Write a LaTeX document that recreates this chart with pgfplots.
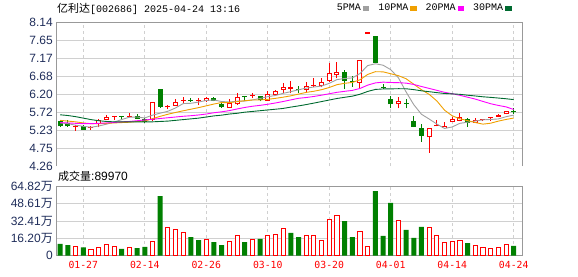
\documentclass[border=0pt]{standalone}
\usepackage{fontspec}
\setmainfont{Liberation Sans}
\newfontfamily\cjk{Noto Sans CJK SC}
\newfontfamily\mono{Liberation Mono}
\newfontfamily\datefont{DejaVu Sans Mono}
\usepackage{pgfplots}
\usepackage{pgfplotstable}
\pgfplotsset{compat=1.18}
\definecolor{upred}{HTML}{FF0000}
\definecolor{dngreen}{HTML}{008000}
\definecolor{maA}{HTML}{A0A0A0}
\definecolor{maB}{HTML}{F0A000}
\definecolor{maC}{HTML}{FF00FF}
\definecolor{maD}{HTML}{006A30}
\definecolor{gridc}{HTML}{D0D0D0}
\definecolor{framec}{HTML}{999999}
\definecolor{navy}{HTML}{1F2D5A}

% down (green) candles: index open high low close
\pgfplotstableread{
i O H L C
0 5.47 5.49 5.32 5.33
1 5.43 5.51 5.32 5.33
3 5.35 5.37 5.23 5.24
8 5.60 5.61 5.51 5.59
10 5.61 5.67 5.52 5.53
11 5.53 5.55 5.42 5.44
13 6.33 6.34 5.83 5.86
17 6.03 6.09 5.98 6.02
20 6.10 6.13 6.00 6.02
21 5.93 5.97 5.83 5.84
24 6.12 6.15 6.02 6.11
26 6.15 6.15 6.00 6.04
31 6.32 6.41 6.22 6.30
37 6.80 6.86 6.33 6.56
38 6.55 6.69 6.40 6.52
41 7.75 7.75 7.04 7.04
42 6.38 6.48 6.33 6.37
43 6.06 6.15 5.81 5.92
45 5.94 6.06 5.81 5.93
46 5.47 5.61 5.31 5.32
47 5.29 5.38 4.91 5.08
53 5.52 5.56 5.32 5.43
59 5.73 5.83 5.66 5.72
}\downtab

% up (red) candles
\pgfplotstableread{
i O H L C
2 5.31 5.36 5.21 5.32
4 5.29 5.35 5.23 5.30
5 5.38 5.52 5.30 5.50
6 5.50 5.63 5.49 5.57
7 5.59 5.61 5.50 5.60
9 5.59 5.68 5.57 5.61
12 5.50 5.98 5.47 5.98
14 5.84 5.91 5.79 5.86
15 5.89 6.07 5.87 5.98
16 6.02 6.11 5.95 6.03
18 6.01 6.09 5.90 6.02
19 6.00 6.13 5.99 6.09
22 5.83 6.06 5.82 5.95
23 5.92 6.22 5.91 6.13
25 6.15 6.24 6.08 6.17
27 6.02 6.29 6.01 6.19
28 6.16 6.31 6.15 6.29
29 6.31 6.50 6.22 6.40
30 6.34 6.56 6.22 6.39
32 6.31 6.53 6.26 6.41
33 6.42 6.62 6.40 6.44
34 6.41 6.62 6.38 6.53
35 6.55 7.04 6.53 6.76
36 6.71 7.07 6.62 6.80
39 6.49 7.12 6.35 7.12
40 7.83 7.83 7.83 7.83
44 5.92 6.11 5.81 6.02
48 5.03 5.28 4.62 5.28
49 5.33 5.50 5.33 5.34
50 5.28 5.44 5.28 5.34
51 5.44 5.59 5.44 5.52
52 5.48 5.68 5.46 5.57
54 5.43 5.56 5.42 5.50
55 5.49 5.53 5.47 5.50
56 5.56 5.58 5.47 5.57
57 5.59 5.65 5.58 5.64
58 5.65 5.73 5.65 5.73
}\uptab

% moving averages
\pgfplotstableread{
i m5 m10 m20 m30
0 5.42 5.49 5.43 5.64
1 5.40 5.47 5.42 5.62
2 5.36 5.45 5.41 5.59
3 5.33 5.42 5.40 5.55
4 5.304 5.40 5.40 5.51
5 5.338 5.40 5.41 5.48
6 5.386 5.41 5.42 5.46
7 5.442 5.42 5.43 5.45
8 5.512 5.43 5.45 5.45
9 5.574 5.439 5.46 5.45
10 5.580 5.459 5.48 5.45
11 5.554 5.470 5.50 5.45
12 5.630 5.536 5.52 5.45
13 5.684 5.598 5.54 5.46
14 5.734 5.654 5.56 5.47
15 5.824 5.702 5.58 5.49
16 5.942 5.748 5.60 5.51
17 5.950 5.790 5.615 5.53
18 5.982 5.833 5.635 5.55
19 6.028 5.881 5.660 5.58
20 6.036 5.930 5.695 5.61
21 5.998 5.970 5.720 5.63
22 5.984 5.967 5.752 5.66
23 6.006 5.994 5.796 5.68
24 6.010 6.019 5.837 5.71
25 6.040 6.038 5.870 5.73
26 6.080 6.039 5.894 5.75
27 6.128 6.056 5.923 5.77
28 6.160 6.083 5.958 5.79
29 6.218 6.114 5.998 5.811
30 6.262 6.151 6.041 5.847
31 6.314 6.197 6.084 5.879
32 6.358 6.243 6.105 5.915
33 6.388 6.274 6.134 5.955
34 6.414 6.316 6.168 5.996
35 6.488 6.375 6.207 6.038
36 6.588 6.451 6.245 6.079
37 6.618 6.488 6.272 6.111
38 6.634 6.511 6.297 6.142
39 6.752 6.583 6.349 6.193
40 6.966 6.727 6.439 6.269
41 7.014 6.801 6.499 6.323
42 6.976 6.797 6.520 6.336
43 6.856 6.745 6.510 6.338
44 6.636 6.694 6.505 6.343
45 6.256 6.611 6.493 6.341
46 5.912 6.463 6.457 6.318
47 5.654 6.315 6.402 6.286
48 5.526 6.191 6.351 6.262
49 5.390 6.013 6.298 6.237
50 5.272 5.764 6.246 6.214
51 5.312 5.612 6.207 6.203
52 5.410 5.532 6.165 6.191
53 5.440 5.483 6.114 6.167
54 5.472 5.431 6.063 6.147
55 5.504 5.388 6.000 6.125
56 5.514 5.413 5.938 6.109
57 5.528 5.469 5.892 6.091
58 5.588 5.514 5.853 6.072
59 5.632 5.552 5.783 6.049
}\matab

% volume (10k shares), green days
\pgfplotstableread{
i v
0 10.8
1 9.8
3 7.7
8 6.1
10 7.0
11 8.0
13 55.7
17 17.3
18 14.5
20 12.6
21 9.8
24 12.6
26 15.5
30 21.1
31 17.3
37 32.3
38 17.3
41 60.4
42 18.3
43 49.2
45 23.9
46 16.4
47 26.7
53 11.7
59 9.0
}\vdown

% volume, red days
\pgfplotstableread{
i v
2 8.6
4 6.1
5 7.7
6 10.5
7 8.9
9 7.7
12 13.6
14 26.4
15 24.5
16 22.0
19 15.2
22 13.6
23 18.9
25 15.2
27 18.9
28 20.1
29 25.5
32 18.9
33 18.9
34 14.5
35 33.9
36 37.6
39 22.9
40 8.6
44 33.0
48 26.4
49 18.9
50 12.6
51 13.6
52 14.2
54 9.5
55 7.7
56 6.7
57 7.7
58 10.5
}\vup

\pgfplotsset{
  kbase/.style={
    scale only axis, width=466pt,
    xmin=-0.552, xmax=60.08,
    xtick={3,11,...,59},
    major tick length=0pt,
    axis line style={framec, line width=0.9pt, -},
    xmajorgrids, ymajorgrids,
    x grid style={gridc, line width=0.8pt, dash pattern=on 3pt off 3pt},
    y grid style={gridc, line width=0.8pt},
    yticklabel style={anchor=east, inner sep=0pt, xshift=-3pt,
      font=\fontsize{12}{14}\selectfont, text=navy},
    xticklabel style={anchor=north, inner sep=0pt, yshift=-6pt,
      font=\datefont\fontsize{9.8}{12}\selectfont, text=upred},
  },
  wick/.style={forget plot, draw=none, mark=none,
    error bars/.cd, y dir=plus, y explicit, error mark=none,
    error bar style={draw=#1, solid, line width=1pt}},
  body/.style 2 args={forget plot, draw=none, mark=none,
    error bars/.cd, y dir=plus, y explicit, error mark=none,
    error bar style={draw=#1, solid, line width=#2}},
}

\begin{document}
\begin{tikzpicture}
\path[use as bounding box] (0pt,0pt) rectangle (578pt,276pt);

\begin{axis}[kbase, at={(56pt,110pt)}, anchor=south west, height=144pt,
  ymin=4.26, ymax=8.14,
  axis x line*=top, axis y line*=box,
  ytick={4.745,5.23,5.715,6.2,6.685,7.17,7.655,8.14},
  yticklabels={4.75,5.23,5.72,6.20,6.68,7.17,7.65,8.14},
  extra y ticks={4.26}, extra y tick labels={4.26},
  extra y tick style={grid=none},
  xticklabels={},
  legend plot pos=right,
  legend columns=4,
  legend image code/.code={\fill[#1] (0pt,-2.5pt) rectangle (5.5pt,1.5pt);},
  legend style={draw=none, fill=none, at={(0.978,1.0972)}, anchor=east,
    inner sep=0pt, font=\mono\fontsize{10}{12}\selectfont,
    /tikz/every even column/.append style={column sep=7pt}},
]
% green candles
\addplot[wick=dngreen] table[x=i, y=L, y error plus expr={\thisrow{H}-\thisrow{L}}] {\downtab};
\addplot[body={dngreen}{5pt}] table[x=i, y=C, y error plus expr={max(\thisrow{O}-\thisrow{C},0.027)}] {\downtab};
% red candles
\addplot[wick=upred] table[x=i, y=L, y error plus expr={\thisrow{H}-\thisrow{L}}] {\uptab};
\addplot[body={upred}{5pt}] table[x=i, y=O, y error plus expr={max(\thisrow{C}-\thisrow{O},0.027)}] {\uptab};
\addplot[body={white}{3pt}] table[x=i, y expr={\thisrow{O}+0.027}, y error plus expr={max(\thisrow{C}-\thisrow{O}-0.054,0)}] {\uptab};
% moving averages
\addplot[maA, line width=0.9pt, mark=none] table[x=i, y=m5] {\matab};
\addlegendentry{5PMA}
\addplot[maB, line width=0.9pt, mark=none] table[x=i, y=m10] {\matab};
\addlegendentry{10PMA}
\addplot[maC, line width=0.9pt, mark=none] table[x=i, y=m20] {\matab};
\addlegendentry{20PMA}
\addplot[maD, line width=0.9pt, mark=none] table[x=i, y=m30] {\matab};
\addlegendentry{30PMA}
\end{axis}

\begin{axis}[kbase, at={(56pt,20.5pt)}, anchor=south west, height=69.2pt,
  ymin=0, ymax=64.82,
  ytick={0,16.205,32.41,48.615,64.82},
  yticklabels={0,{16.20{\cjk 万}},{32.41{\cjk 万}},{48.61{\cjk 万}},{64.82{\cjk 万}}},
  xticklabels={01-27,02-14,02-26,03-10,03-20,04-01,04-14,04-24},
]
\addplot[ybar, bar width=5pt, bar shift=0pt, fill=dngreen, draw=none] table[x=i, y=v] {\vdown};
\addplot[ybar, bar width=4.1pt, bar shift=0pt, fill=white, draw=upred, line width=0.9pt] table[x=i, y=v] {\vup};
\end{axis}

\node[anchor=west, inner sep=0pt] at (57pt,267.5pt)
  {{\cjk\fontsize{11}{13}\selectfont 亿利达}{\mono\fontsize{10}{12}\selectfont [002686] 2025-04-24 13:16}};
\node[anchor=west, inner sep=0pt] at (58pt,99.3pt)
  {{\cjk\fontsize{11}{13}\selectfont 成交量}{\fontsize{12}{14}\selectfont :89970}};
\end{tikzpicture}
\end{document}
